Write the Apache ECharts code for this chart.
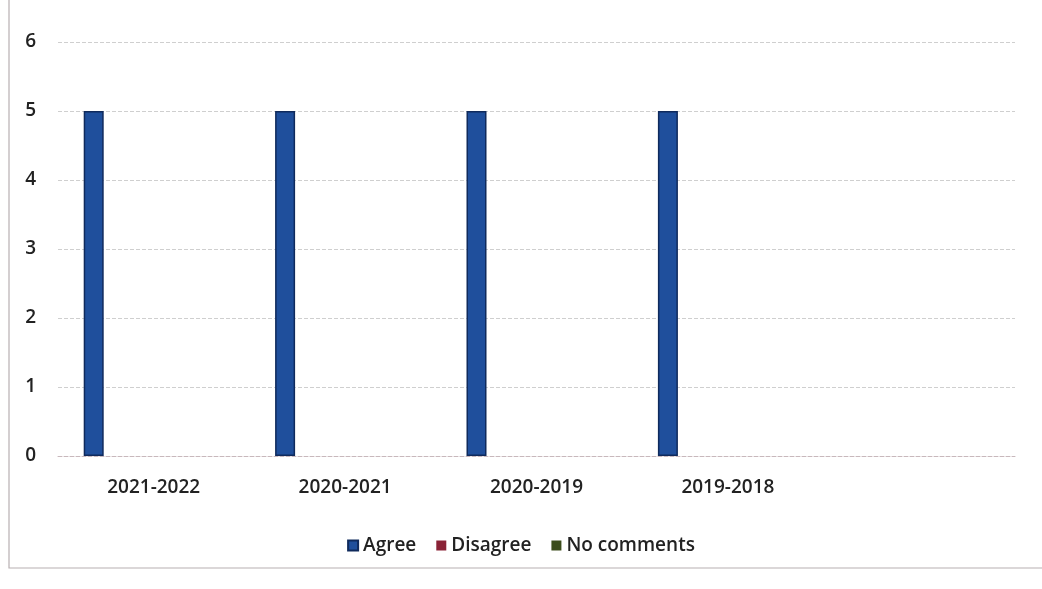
<!DOCTYPE html>
<html>
<head>
<meta charset="utf-8">
<script src="https://cdn.jsdelivr.net/npm/echarts@6/dist/echarts.min.js"></script>
<style>html,body{margin:0;padding:0;background:#fff;}#c{width:1042px;height:589px;}</style>
</head>
<body>
<div id="c"></div>
<script>
const categories = ['2021-2022', '2020-2021', '2020-2019', '2019-2018', ''];
const agree = [5, 5, 5, 5, null];
const disagree = [0, 0, 0, 0, null];
const noComments = [0, 0, 0, 0, null];
const yTicks = [0, 1, 2, 3, 4, 5, 6];

const chart = echarts.init(document.getElementById('c'));
const font = '"Open Sans", "Liberation Sans", sans-serif';
chart.setOption({
  backgroundColor: '#ffffff',
  animation: false,
  grid: { left: 58, right: 27, top: 42, bottom: 133 },
  legend: {
    bottom: 29,
    left: 'center',
    icon: 'rect',
    itemWidth: 10,
    itemHeight: 10,
    itemGap: 20,
    textStyle: { fontFamily: font, fontSize: 19, color: '#222', fontWeight: 600 },
    data: ['Agree', 'Disagree', 'No comments']
  },
  xAxis: {
    type: 'category',
    data: categories,
    axisLine: { show: true, lineStyle: { color: '#c8b8bc', width: 1, type: 'dashed' } },
    axisTick: { show: false },
    axisLabel: { fontFamily: font, fontSize: 19, fontWeight: 600, color: '#222', margin: 22 }
  },
  yAxis: {
    type: 'value',
    min: yTicks[0],
    max: yTicks[yTicks.length - 1],
    interval: 1,
    axisLine: { show: false },
    axisTick: { show: false },
    axisLabel: { fontFamily: font, fontSize: 19, fontWeight: 600, color: '#222', margin: 22 },
    splitLine: { lineStyle: { color: '#cfcfcf', type: 'dashed', width: 1 } }
  },
  series: [
    { name: 'Agree', type: 'bar', data: agree, barWidth: 20, barGap: '200%',
      itemStyle: { color: '#1f4f9c', borderColor: '#0f2a5c', borderWidth: 1.5 } },
    { name: 'Disagree', type: 'bar', data: disagree, barWidth: 20,
      itemStyle: { color: '#8a2236' } },
    { name: 'No comments', type: 'bar', data: noComments, barWidth: 20,
      itemStyle: { color: '#3c4d1c' } }
  ],
  graphic: [
    { type: 'polyline', silent: true,
      shape: { points: [[9, 0], [9, 568], [1042, 568]] },
      style: { stroke: '#b8b0b2', lineWidth: 1.2, fill: null } }
  ]
});
</script>
</body>
</html>
